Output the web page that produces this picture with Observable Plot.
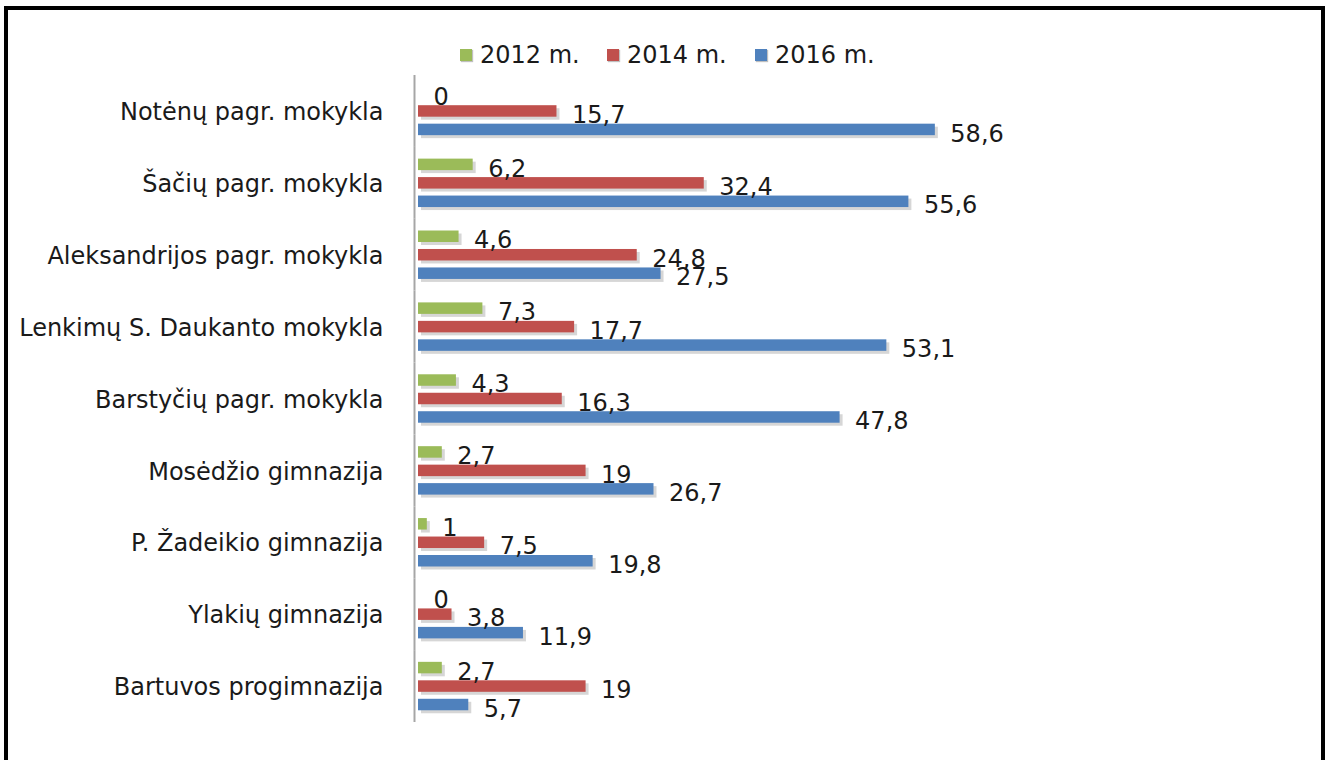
<!DOCTYPE html>
<html><head><meta charset="utf-8">
<script src="https://cdn.jsdelivr.net/npm/d3@7"></script>
<script src="https://cdn.jsdelivr.net/npm/@observablehq/plot@0.6"></script>
<style>
html,body{margin:0;padding:0;background:#fff;overflow:hidden;}
#frame{position:absolute;left:4px;top:6px;width:1313px;height:800px;border:4px solid #000;}
#chart{position:absolute;left:0;top:0;}
#legend{position:absolute;top:40px;left:0;width:1329px;height:30px;font-family:"DejaVu Sans",sans-serif;font-size:24px;color:#1a1a1a;}
.item{position:absolute;top:0;display:flex;align-items:center;height:30px;}
.sw{width:12px;height:12px;margin-right:8px;box-shadow:1px 1px 1px rgba(0,0,0,0.25);}
</style></head><body>
<div id="frame"></div>
<div id="chart"></div>
<div id="legend"></div>
<script>
const schools = [
  "Notėnų pagr. mokykla",
  "Šačių pagr. mokykla",
  "Aleksandrijos pagr. mokykla",
  "Lenkimų S. Daukanto mokykla",
  "Barstyčių pagr. mokykla",
  "Mosėdžio gimnazija",
  "P. Žadeikio gimnazija",
  "Ylakių gimnazija",
  "Bartuvos progimnazija"
];
const years = ["2012 m.", "2014 m.", "2016 m."];
const colors = ["#9BBB59", "#C0504D", "#4F81BD"];
const v2012 = [0, 6.2, 4.6, 7.3, 4.3, 2.7, 1, 0, 2.7];
const v2014 = [15.7, 32.4, 24.8, 17.7, 16.3, 19, 7.5, 3.8, 19];
const v2016 = [58.6, 55.6, 27.5, 53.1, 47.8, 26.7, 19.8, 11.9, 5.7];
const legendX = [460, 607, 755];

const series = [v2012, v2014, v2016];
const data = [];
schools.forEach((s, i) => years.forEach((y, j) => data.push({school: s, year: y, value: series[j][i]})));
const fmt = v => String(v).replace(".", ",");

const chart = Plot.plot({
  width: 1329, height: 740,
  marginLeft: 418, marginRight: 29, marginTop: 75, marginBottom: 18,
  style: {fontFamily: "DejaVu Sans, sans-serif", color: "#1a1a1a", background: "transparent"},
  x: {domain: [0, 100], axis: null},
  y: {domain: years, axis: null, paddingInner: 0.378, paddingOuter: 0.635, round: false},
  fy: {domain: schools, padding: 0, label: null, axis: null, round: false},
  color: {domain: years, range: colors},
  marks: [
    Plot.axisFy({anchor: "left", tickSize: 0, tickPadding: 35, fontSize: 24, label: null, fill: "#1a1a1a", dy: 1}),
    Plot.ruleX([0], {stroke: "#a6a6a6", strokeWidth: 2, dx: -4}),
    Plot.barX(data, {x: "value", y: "year", fy: "school", fill: "#000", fillOpacity: 0.16, dx: 3, dy: 3}),
    Plot.barX(data, {x: "value", y: "year", fy: "school", fill: "year"}),
    Plot.text(data, {x: "value", y: "year", fy: "school", text: d => fmt(d.value), textAnchor: "start", dx: 15, dy: 4, fontSize: 24, fill: "#1a1a1a"})
  ]
});
document.getElementById("chart").appendChild(chart);

const lg = document.getElementById("legend");
years.forEach((y, j) => {
  const el = document.createElement("div");
  el.className = "item";
  el.style.left = legendX[j] + "px";
  el.innerHTML = `<span class="sw" style="background:${colors[j]}"></span><span>${y}</span>`;
  lg.appendChild(el);
});
</script>
</body></html>
